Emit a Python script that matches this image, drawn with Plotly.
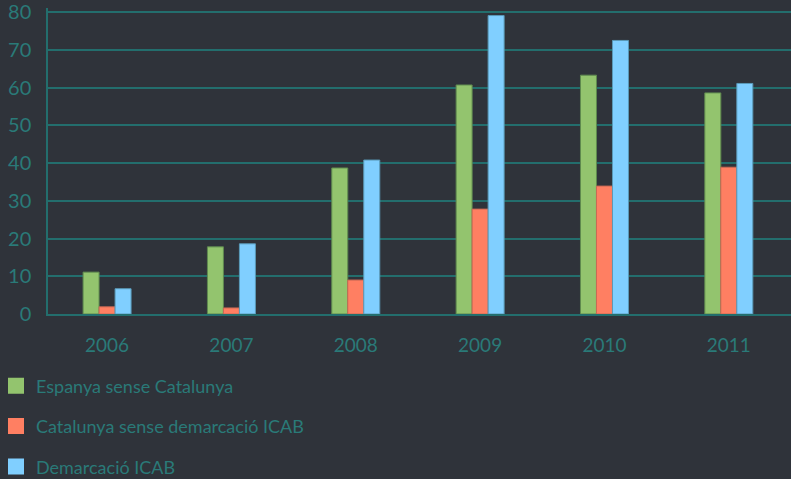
import plotly.graph_objects as go

years = ["2006", "2007", "2008", "2009", "2010", "2011"]
espanya = [11.1, 17.8, 38.7, 60.7, 63.3, 58.6]
catalunya = [1.9, 1.6, 9.0, 27.8, 33.9, 38.9]
icab = [6.7, 18.6, 40.8, 79.1, 72.5, 61.1]

names = ["Espanya sense Catalunya", "Catalunya sense demarcació ICAB", "Demarcació ICAB"]
fills = ["#93c46e", "#ff7f62", "#80cfff"]
edges = ["#5f8a4f", "#c96a55", "#5a9ab8"]

BG = "#2f333a"
TEAL = "#2a7a78"
GRID = "#236e6d"
FONT = "Lato"

fig = go.Figure()
for vals, name, fc, ec in zip([espanya, catalunya, icab], names, fills, edges):
    fig.add_trace(go.Bar(x=years, y=vals, name=name, showlegend=False,
                         marker=dict(color=fc, line=dict(color=ec, width=1))))
for i, (name, fc) in enumerate(zip(names, fills)):
    fig.add_trace(go.Scatter(x=[None], y=[None], mode="markers", name=name,
                             legendgroup=f"g{i}",
                             marker=dict(symbol="square", size=16, color=fc)))

fig.update_layout(
    width=791, height=479,
    paper_bgcolor=BG, plot_bgcolor=BG,
    margin=dict(l=48, r=0, t=8, b=165, autoexpand=False),
    barmode="group", bargap=0.614, bargroupgap=0,
    font=dict(family=FONT, color=TEAL, size=18),
    legend=dict(x=-52 / 743, y=(314 - 367.5) / 306,
                xanchor="left", yanchor="top", orientation="v",
                tracegroupgap=14, font=dict(size=18, color=TEAL),
                bgcolor="rgba(0,0,0,0)", itemclick=False),
    showlegend=True,
)
fig.update_xaxes(type="category", range=[-0.475, 5.5], showgrid=False,
                 showline=True, linecolor=GRID, linewidth=1.5,
                 ticks="", ticklabelstandoff=13, ticklabeloverflow="allow",
                 tickfont=dict(size=19, color=TEAL))
fig.update_yaxes(range=[0, 81.1], tickvals=[0, 10, 20, 30, 40, 50, 60, 70, 80],
                 showgrid=True, gridcolor=GRID, gridwidth=1.5,
                 showline=True, linecolor=GRID, linewidth=1.5,
                 zeroline=False, ticks="", ticklabelstandoff=11,
                 ticklabeloverflow="allow",
                 tickfont=dict(size=20, color=TEAL))

fig.write_html(
    "out.html",
    config={"displayModeBar": False},
    post_script="document.body.style.margin='0';document.body.style.overflow='hidden';",
)
